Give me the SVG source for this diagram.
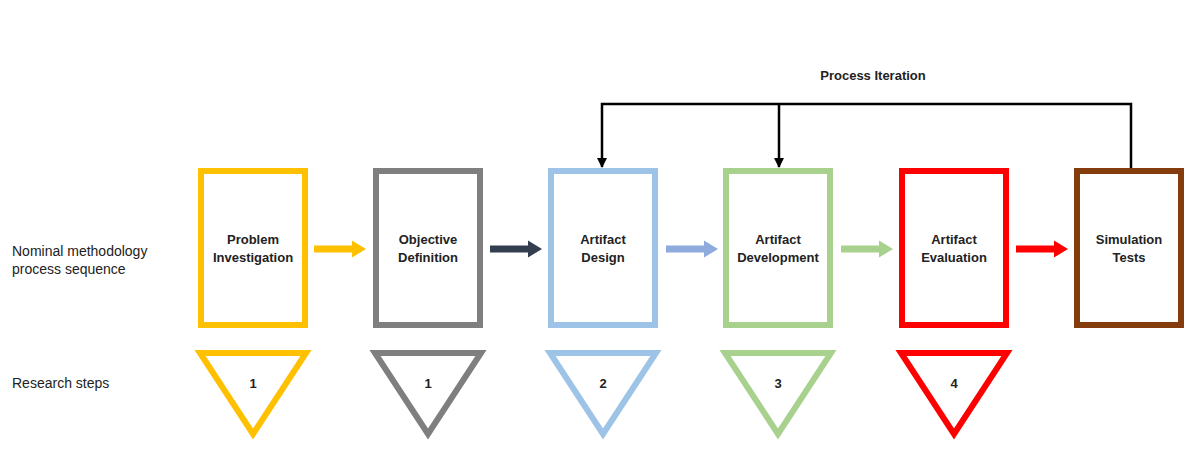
<svg xmlns="http://www.w3.org/2000/svg" xmlns:xlink="http://www.w3.org/1999/xlink" width="1198" height="462" viewBox="0 0 1198 462">
  <style>
    .box { fill: #fff; stroke-width: 6; }
    .tri { fill: #fff; stroke-width: 6; stroke-linejoin: miter; }
    .lbl { font-family: "Liberation Sans", Arial, sans-serif; font-size: 13px; font-weight: bold; fill: #222; text-anchor: middle; }
    .side { font-family: "Liberation Sans", Arial, sans-serif; font-size: 14px; fill: #222; }
    .loop { fill: none; stroke: #000; stroke-width: 2.5; }
  </style>
  <defs>
    <!-- block arrow pointing right, origin at the tail centre -->
    <path id="blk" d="M0,-3.5 H38 V-8.5 L52,0 L38,8.5 V3.5 H0 Z"/>
    <marker id="ah" viewBox="0 0 10 10" refX="9" refY="5" markerWidth="4" markerHeight="4" orient="auto" markerUnits="strokeWidth">
      <path d="M0,0 L10,5 L0,10 Z" fill="#000"/>
    </marker>
  </defs>

  <rect width="1198" height="462" fill="#fff"/>

  <!-- row captions -->
  <text class="side" x="12" y="256">Nominal methodology</text>
  <text class="side" x="12" y="274">process sequence</text>
  <text class="side" x="12" y="388">Research steps</text>

  <!-- connectors -->
  <g id="connectors">
    <use xlink:href="#blk" x="314" y="249" fill="#FFC000"/>
    <use xlink:href="#blk" x="490" y="249" fill="#333F50"/>
    <use xlink:href="#blk" x="666" y="249" fill="#8FAADC"/>
    <use xlink:href="#blk" x="841" y="249" fill="#A9D18E"/>
    <use xlink:href="#blk" x="1016" y="249" fill="#FF0000"/>
    <path class="loop" d="M1131,170 V104 H602 V167" marker-end="url(#ah)"/>
    <path class="loop" d="M779,104 V167" marker-end="url(#ah)"/>
    <text class="lbl" x="873" y="80">Process Iteration</text>
  </g>

  <g id="problem-investigation">
    <rect class="box" x="201" y="171" width="104" height="154" stroke="#FFC000"/>
    <text class="lbl" x="253" y="244">Problem</text>
    <text class="lbl" x="253" y="262">Investigation</text>
  </g>
  <g id="objective-definition">
    <rect class="box" x="376" y="171" width="104" height="154" stroke="#7F7F7F"/>
    <text class="lbl" x="428" y="244">Objective</text>
    <text class="lbl" x="428" y="262">Definition</text>
  </g>
  <g id="artifact-design">
    <rect class="box" x="551" y="171" width="104" height="154" stroke="#9DC3E6"/>
    <text class="lbl" x="603" y="244">Artifact</text>
    <text class="lbl" x="603" y="262">Design</text>
  </g>
  <g id="artifact-development">
    <rect class="box" x="726" y="171" width="104" height="154" stroke="#A9D18E"/>
    <text class="lbl" x="778" y="244">Artifact</text>
    <text class="lbl" x="778" y="262">Development</text>
  </g>
  <g id="artifact-evaluation">
    <rect class="box" x="902" y="171" width="104" height="154" stroke="#FF0000"/>
    <text class="lbl" x="954" y="244">Artifact</text>
    <text class="lbl" x="954" y="262">Evaluation</text>
  </g>
  <g id="simulation-tests">
    <rect class="box" x="1077" y="171" width="104" height="154" stroke="#843C0C"/>
    <text class="lbl" x="1129" y="244">Simulation</text>
    <text class="lbl" x="1129" y="262">Tests</text>
  </g>

  <!-- research step markers -->
  <g id="step-1a">
    <polygon class="tri" points="200,353 306,353 253,434" stroke="#FFC000"/>
    <text class="lbl" x="253" y="388">1</text>
  </g>
  <g id="step-1b">
    <polygon class="tri" points="375,353 481,353 428,434" stroke="#7F7F7F"/>
    <text class="lbl" x="428" y="388">1</text>
  </g>
  <g id="step-2">
    <polygon class="tri" points="550,353 656,353 603,434" stroke="#9DC3E6"/>
    <text class="lbl" x="603" y="388">2</text>
  </g>
  <g id="step-3">
    <polygon class="tri" points="725,353 831,353 778,434" stroke="#A9D18E"/>
    <text class="lbl" x="778" y="388">3</text>
  </g>
  <g id="step-4">
    <polygon class="tri" points="901,353 1007,353 954,434" stroke="#FF0000"/>
    <text class="lbl" x="954" y="388">4</text>
  </g>
</svg>
